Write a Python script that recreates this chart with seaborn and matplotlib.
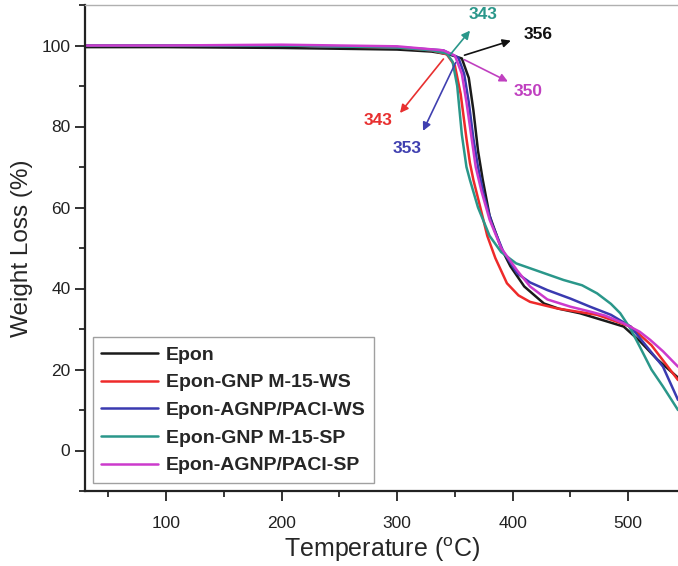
import numpy as np
import pandas as pd
import matplotlib
matplotlib.use("Agg")
import matplotlib.pyplot as plt
import seaborn as sns
from matplotlib.ticker import MultipleLocator

# ---- data ----
samples = ["Epon", "Epon-GNP M-15-WS", "Epon-AGNP/PACI-WS", "Epon-GNP M-15-SP", "Epon-AGNP/PACI-SP"]
colors = ["#1a1a1a", "#ee2a2a", "#3a3ab0", "#2a978a", "#cc3acc"]

epon_T = [30, 100, 200, 300, 330, 345, 356, 362, 366, 370, 374, 380, 390, 398, 410, 427, 440, 458, 480, 496, 510, 525, 543]
epon_W = [99.6, 99.6, 99.4, 99.0, 98.5, 97.8, 96.8, 92, 84, 74, 67, 58, 50, 45.5, 40.5, 36.3, 35.0, 33.9, 32.0, 30.6, 27.0, 22.5, 18.0]

gnpws_T = [30, 100, 200, 300, 330, 343, 350, 355, 360, 363, 366, 372, 378, 385, 395, 405, 415, 438, 473, 502, 520, 543]
gnpws_W = [100, 100, 100, 99.5, 98.8, 97.8, 95, 88, 77, 71, 66.8, 60, 53, 47.5, 41.3, 38.3, 36.7, 35.1, 33.5, 30.6, 26.0, 17.4]

agnpws_T = [30, 100, 200, 300, 340, 353, 358, 362, 366, 370, 375, 382, 392, 404, 415, 430, 450, 467, 485, 502, 515, 530, 543]
agnpws_W = [100, 100, 100, 99.6, 98.8, 97, 93, 86, 77, 70, 63, 56, 49, 43.7, 41.5, 39.6, 37.5, 35.5, 33.5, 30.6, 26.0, 20.7, 12.5]

gnpsp_T = [30, 100, 200, 300, 330, 343, 348, 352, 356, 360, 363, 370, 380, 390, 403, 420, 444, 460, 473, 485, 493, 502, 510, 520, 530, 543]
gnpsp_W = [100, 100, 100, 99.5, 98.8, 98, 96, 90, 78, 70, 66.8, 60, 53, 49, 46.2, 44.5, 42.1, 40.8, 38.8, 36.2, 33.9, 30.0, 25.6, 20.0, 15.8, 10.0]

agnpsp_T = [30, 100, 200, 300, 340, 350, 356, 360, 364, 368, 373, 380, 390, 404, 415, 430, 450, 467, 480, 496, 510, 519, 530, 543]
agnpsp_W = [100, 100, 100.2, 99.8, 98.8, 97.5, 93, 86, 78, 70, 64, 57, 50, 44.4, 40.5, 37.3, 35.5, 34.3, 33.3, 31.4, 29.3, 27.3, 24.5, 20.7]

series_T = [epon_T, gnpws_T, agnpws_T, gnpsp_T, agnpsp_T]
series_W = [epon_W, gnpws_W, agnpws_W, gnpsp_W, agnpsp_W]

# onset annotations: label, arrow start (T, W), arrow head (T, W), text pos (T, W), colour
onset_labels = ["343", "356", "350", "343", "353"]
onset_start = [(344.4, 97.2), (356, 97.4), (356, 96.8), (341.6, 97.2), (351.7, 96.4)]
onset_head = [(364.6, 104.2), (400.7, 101.4), (398, 90.8), (301, 82.8), (321.4, 78.3)]
onset_text = [(374, 107.6), (422, 102.6), (413.7, 88.6), (283.8, 81.6), (308.4, 74.6)]
onset_colors = ["#2a978a", "#111111", "#c040c0", "#e83030", "#4040b0"]

rows = []
for name, Ts, Ws in zip(samples, series_T, series_W):
    for t, w in zip(Ts, Ws):
        rows.append((name, t, w))
df = pd.DataFrame(rows, columns=["sample", "T", "W"])

sns.set_theme(style="ticks")
plt.rcParams["font.family"] = ["Liberation Sans", "DejaVu Sans"]
plt.rcParams["mathtext.fontset"] = "custom"
plt.rcParams["mathtext.rm"] = "Liberation Sans"

fig = plt.figure(figsize=(6.78, 5.66), dpi=100)
ax = fig.add_axes([85 / 678, 75 / 566, 593 / 678, 486 / 566])

sns.lineplot(data=df, x="T", y="W", hue="sample", hue_order=samples,
             palette=dict(zip(samples, colors)), estimator=None, sort=False,
             linewidth=1.8, ax=ax)

ax.set_xlim(30, 543)
ax.set_ylim(-10, 110)
ax.xaxis.set_major_locator(MultipleLocator(100))
ax.xaxis.set_minor_locator(MultipleLocator(50))
ax.yaxis.set_major_locator(MultipleLocator(20))
ax.yaxis.set_minor_locator(MultipleLocator(10))
ax.tick_params(which="major", direction="out", length=7, width=1.3, labelsize=12.5, colors="#222222")
ax.tick_params(which="minor", direction="out", length=4, width=1.3)
ax.tick_params(axis="x", pad=11)

for s in ["left", "bottom"]:
    ax.spines[s].set_linewidth(1.6)
    ax.spines[s].set_color("#222222")
ax.spines["top"].set_color("#b0b0b0")
ax.spines["top"].set_linewidth(1.0)
ax.spines["right"].set_visible(False)

ax.set_xlabel("Temperature ($\\mathregular{^{o}}$C)", fontsize=18, labelpad=3)
ax.set_ylabel("Weight Loss (%)", fontsize=17.5, labelpad=6)

for lab, st, hd, tp, c in zip(onset_labels, onset_start, onset_head, onset_text, onset_colors):
    ax.annotate("", xy=hd, xytext=st,
                arrowprops=dict(arrowstyle="-|>", color=c, lw=1.2, mutation_scale=12))
    ax.text(tp[0], tp[1], lab, color=c, fontsize=12.5, fontweight="bold", ha="center", va="center")

leg = ax.legend(loc="lower left", bbox_to_anchor=(0.013, 0.016), borderaxespad=0,
                frameon=True, fancybox=False, edgecolor="#888888", fontsize=14,
                handlelength=2.9, labelspacing=0.52, borderpad=0.45, handletextpad=0.4,
                title=None)
leg.get_frame().set_linewidth(1.0)
for t in leg.get_texts():
    t.set_fontweight("bold")
for l in leg.get_lines():
    l.set_linewidth(1.8)

fig.savefig("out.png", dpi=100)
